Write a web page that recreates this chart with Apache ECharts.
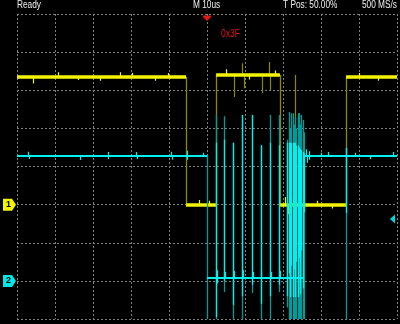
<!DOCTYPE html>
<html><head><meta charset="utf-8">
<script src="https://cdn.jsdelivr.net/npm/echarts@6/dist/echarts.min.js"></script>
<style>html,body{margin:0;padding:0;background:#000;}#c{width:400px;height:324px;}</style>
</head><body><div id="c"></div>
<script>
// ---------------- data (screen divisions: x 0..10, y 0..8) ----------------
const headerTexts = ['Ready', 'M 10us', 'T Pos: 50.00%', '500 MS/s'];
const triggerLabel = '0x3F';
const chLabels = ['1', '2'];
const chOffsets = [3.0, 1.0];          // channel ground markers (div)
const triggerPos = 5.0;                // trigger time (div)
const triggerLevel = 2.62;             // right-side trigger level marker (div)

// CH1 (yellow)
const ch1Edges  = [4.45, 5.24, 6.92, 8.66];
const ch1Levels = [6.35, 3.0, 6.40, 3.0, 6.35];
const ch1Noise  = [[0.42,-0.17],[1.08,0.12],[1.60,-0.08],[2.18,-0.10],[2.72,0.12],[3.02,0.11],
                   [3.65,-0.10],[3.98,0.10],[4.80,0.12],[5.05,0.10],[5.50,0.15],[6.10,-0.12],
                   [6.80,0.12],[7.05,0.20],[7.15,-0.25],[7.22,0.22],[7.30,-0.30],[7.40,0.15],
                   [7.90,0.10],[8.30,-0.10],[9.00,0.10],[9.50,-0.10]];
const ch1Glitches = [[5.71,6.40,5.82],[5.94,6.40,6.71],[5.97,6.40,6.05],[6.45,6.40,5.93],
                     [6.63,6.40,6.74],[6.66,6.40,6.00],[7.32,3.00,6.40]];

// CH2 (cyan)
const ch2Edges  = [5.0, 7.55];
const ch2Levels = [4.28, 1.08, 4.28];
const ch2Noise  = [[0.30,0.11],[0.31,-0.08],[1.66,-0.11],[2.39,0.10],[2.40,-0.08],[3.15,0.10],
                   [3.16,-0.08],[4.07,0.11],[4.08,-0.10],[4.47,0.13],[4.48,-0.10],[4.90,0.08],
                   [5.26,0.20],[5.27,-0.15],[5.48,0.15],[5.71,0.18],[5.95,0.20],[6.21,0.15],
                   [6.44,0.20],[6.68,0.15],[6.93,0.18],[7.62,0.17],[7.63,-0.18],[7.68,0.12],
                   [7.70,-0.10],[8.00,0.08],[8.20,0.10],[8.90,0.08],[9.30,-0.08],[9.90,0.10]];
// [x, dimTop, dimBottom, brightTop, brightBottom]
const ch2Spikes = [
  [5.00, 4.28, 0.00, 1.08, 1.08],
  [5.24, 5.35, 0.00, 4.62, 0.05],
  [5.46, 5.32, 0.71, 4.70, 1.00],
  [5.69, 4.62, 0.00, 4.62, 0.37],
  [5.93, 5.35, 0.00, 5.35, 0.60],
  [6.19, 5.35, 0.68, 5.35, 0.90],
  [6.42, 4.56, 0.00, 4.56, 0.40],
  [6.66, 5.35, 0.00, 4.62, 0.60],
  [6.91, 5.35, 0.71, 4.56, 0.90],
  [7.12, 4.70, 0.30, 4.62, 0.60],
  [7.16, 5.43, 0.00, 4.62, 1.20],
  [7.19, 5.00, 0.00, 4.62, 0.58],
  [7.23, 5.40, 0.00, 4.62, 1.40],
  [7.26, 5.40, 0.00, 4.62, 0.58],
  [7.29, 5.10, 0.00, 4.62, 1.30],
  [7.32, 5.30, 0.00, 4.62, 0.58],
  [7.36, 5.00, 0.00, 4.55, 1.50],
  [7.39, 5.40, 0.00, 4.55, 0.58],
  [7.43, 5.40, 0.00, 4.50, 1.60],
  [7.46, 5.10, 0.00, 4.45, 0.65],
  [7.49, 5.35, 0.00, 4.43, 1.80],
  [7.52, 5.22, 0.00, 4.38, 0.80],
  [7.55, 4.90, 0.00, 4.35, 2.80],
  [8.66, 4.49, 0.00, 4.49, 2.78]
];

// ---------------- styles ----------------
const C = {
  bg: '#000000', grid: '#808080', text: '#f0f0f0', red: '#e01818',
  yBright: '#f4f400', yDim: '#8c8800', cBright: '#00f0f0', cDim: '#009c9c'
};
const FONT = "'Liberation Sans',Arial,sans-serif";

// ---------------- builders ----------------
function levelSegs(edges, levels) {
  const b = [0, ...edges, 10];
  return levels.map((L, i) => ({ coords: [[b[i], L], [b[i + 1], L]] }));
}
function edgeSegs(edges, levels) {
  return edges.map((x, i) => ({ coords: [[x, levels[i]], [x, levels[i + 1]]] }));
}
function noiseSegs(edges, levels, noise) {
  const b = [0, ...edges, 10];
  return noise.map(([x, d]) => {
    let i = 0;
    while (i < levels.length - 1 && x > b[i + 1]) i++;
    const L = levels[i];
    return { coords: [[x, L], [x, L + d]] };
  });
}
function linesSeries(data, color, width, z) {
  return { type: 'lines', coordinateSystem: 'cartesian2d', polyline: false, silent: true,
    z: z, data: data, lineStyle: { color: color, width: width, opacity: 1, curveness: 0 } };
}

const chart = echarts.init(document.getElementById('c'), null, { renderer: 'canvas' });
const gridLine = { show: true, lineStyle: { color: C.grid, width: 1, type: [2, 2] } };
chart.setOption({
  backgroundColor: C.bg,
  animation: false,
  grid: { left: 17, right: 3, top: 14, bottom: 5, containLabel: false },
  xAxis: { type: 'value', min: 0, max: 10, interval: 1, axisLine: { show: false },
    axisTick: { show: false }, axisLabel: { show: false }, splitLine: gridLine },
  yAxis: { type: 'value', min: 0, max: 8, interval: 1, axisLine: { show: false },
    axisTick: { show: false }, axisLabel: { show: false }, splitLine: gridLine },
  series: [
    linesSeries(edgeSegs(ch1Edges, ch1Levels), C.yDim, 1.3, 2),
    linesSeries(ch1Glitches.map(([x, a, b]) => ({ coords: [[x, a], [x, b]] })), C.yDim, 1.2, 2),
    linesSeries(levelSegs(ch1Edges, ch1Levels), C.yBright, 3.5, 3),
    linesSeries(noiseSegs(ch1Edges, ch1Levels, ch1Noise), C.yBright, 1.2, 3),
    linesSeries(ch2Spikes.map(s => ({ coords: [[s[0], s[1]], [s[0], s[2]]] })), C.cDim, 1.3, 4),
    linesSeries(levelSegs(ch2Edges, ch2Levels), C.cBright, 2, 5),
    linesSeries(noiseSegs(ch2Edges, ch2Levels, ch2Noise), C.cBright, 1.2, 5),
    linesSeries(ch2Spikes.filter(s => s[3] > s[4]).map(s => ({ coords: [[s[0], s[3]], [s[0], s[4]]] })), C.cBright, 1.3, 6)
  ]
});

// ---------------- overlay graphics ----------------
const px = (x, y) => chart.convertToPixel({ gridIndex: 0 }, [x, y]);
const trig = px(triggerPos, 8);
const chColors = [C.yBright, '#00e8e8'];
const g = [];
const headerX = [17, 193, 283, 397];
headerTexts.forEach((t, i) => g.push({ type: 'text', x: headerX[i], y: 5, scaleX: 0.83, silent: true,
  style: { text: t, fill: C.text, font: '10px ' + FONT, textAlign: i === 3 ? 'right' : 'left', textVerticalAlign: 'middle' } }));
g.push({ type: 'polygon', silent: true, shape: { points: [[trig[0] - 4, 15.5], [trig[0] + 4, 15.5], [trig[0] + 4, 17], [trig[0], 21], [trig[0] - 4, 17]] },
  style: { fill: C.red } });
g.push({ type: 'text', x: trig[0] + 14, y: 34, scaleX: 0.85, silent: true,
  style: { text: triggerLabel, fill: C.red, font: '10px ' + FONT, textAlign: 'left', textVerticalAlign: 'middle' } });
chOffsets.forEach((v, i) => {
  const p = px(0, v);
  const y = p[1], r = p[0] - 1;
  g.push({ type: 'polygon', silent: true, shape: { points: [[3, y - 6], [r - 4, y - 6], [r, y], [r - 4, y + 6], [3, y + 6]] },
    style: { fill: chColors[i] } });
  g.push({ type: 'text', x: 8.5, y: y, silent: true,
    style: { text: chLabels[i], fill: '#000', font: 'bold 9px ' + FONT, textAlign: 'center', textVerticalAlign: 'middle' } });
});
const tl = px(10, triggerLevel);
g.push({ type: 'polygon', silent: true, shape: { points: [[tl[0] - 7, tl[1]], [tl[0] - 2, tl[1] - 4.5], [tl[0] - 2, tl[1] + 4.5]] },
  style: { fill: '#00d8e0' } });
chart.setOption({ graphic: g });
</script></body></html>
